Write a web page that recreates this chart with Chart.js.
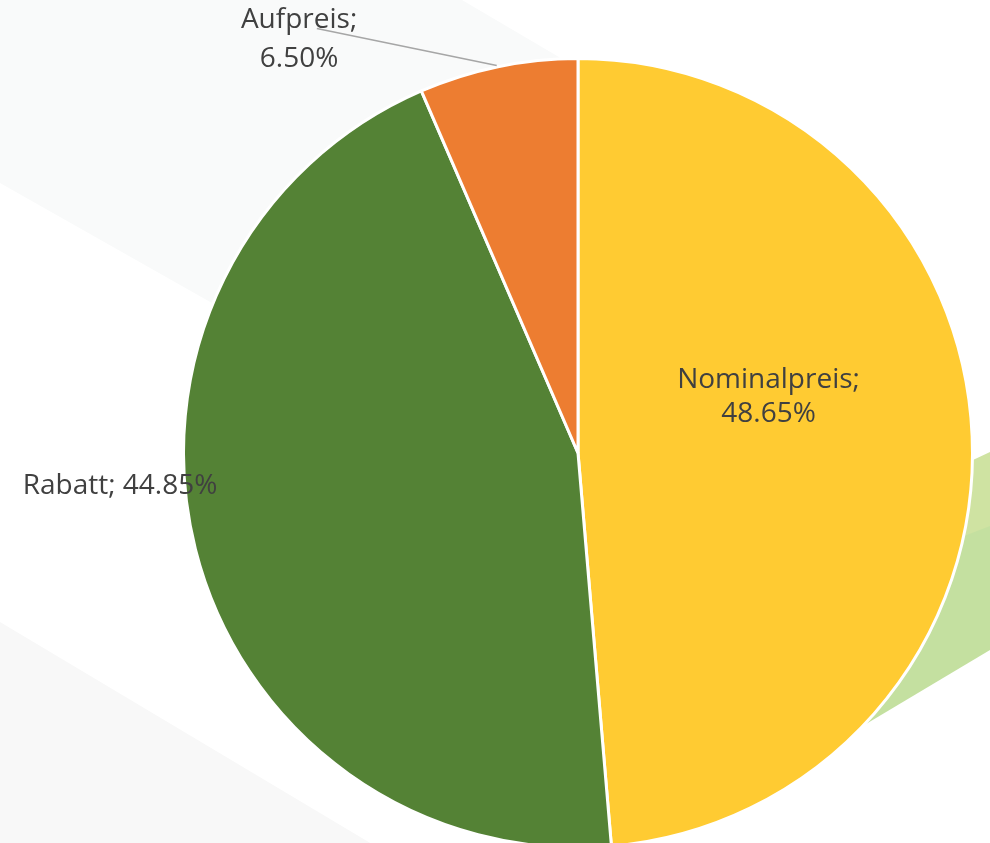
<!DOCTYPE html>
<html>
<head>
<meta charset="utf-8">
<script src="https://cdn.jsdelivr.net/npm/chart.js@4"></script>
<style>
  html, body { margin: 0; padding: 0; background: #ffffff; overflow: hidden; }
  #wrap { width: 990px; height: 850px; position: relative; }
</style>
</head>
<body>
<div id="wrap"><canvas id="pieChart"></canvas></div>
<script>
// Anteile am Umsatz
const labels = ['Nominalpreis', 'Rabatt', 'Aufpreis'];
const shares = [48.65, 44.85, 6.50];
const colors = ['#FFCB32', '#548235', '#ED7D31'];

// decorative background shapes behind the pie
const backdrop = {
    id: 'backdrop',
    beforeDraw(chart) {
        const c = chart.ctx;
        c.save();
        c.fillStyle = '#f9fafa';
        c.beginPath();
        c.moveTo(0, 0); c.lineTo(462, 0); c.lineTo(700, 140);
        c.lineTo(560, 500); c.lineTo(0, 183); c.closePath();
        c.fill();
        c.fillStyle = '#f8f8f8';
        c.beginPath();
        c.moveTo(0, 622); c.lineTo(382, 850); c.lineTo(0, 850); c.closePath();
        c.fill();
        c.fillStyle = '#cfe3a2';
        c.beginPath();
        c.moveTo(990, 452); c.lineTo(990, 528); c.lineTo(760, 620); c.lineTo(760, 560); c.closePath();
        c.fill();
        c.fillStyle = '#c4e0a0';
        c.beginPath();
        c.moveTo(990, 526); c.lineTo(990, 650); c.lineTo(866, 724); c.lineTo(760, 770); c.lineTo(760, 615); c.closePath();
        c.fill();
        c.restore();
    }
};

// data labels, placed relative to the pie centre in units of radius
const sliceLabels = {
    id: 'sliceLabels',
    afterDatasetsDraw(chart) {
        const arc = chart.getDatasetMeta(0).data[0];
        const cx = arc.x, cy = arc.y, r = arc.outerRadius;
        const c = chart.ctx;
        const pct = v => v.toFixed(2) + '%';
        c.save();
        c.font = '28px "Open Sans"';
        c.fillStyle = '#404040';
        c.textAlign = 'center';
        c.textBaseline = 'middle';

        // leader line for the small slice
        c.strokeStyle = '#a6a6a6';
        c.lineWidth = 1.5;
        c.beginPath();
        c.moveTo(cx - 0.662 * r, cy - 1.076 * r);
        c.lineTo(cx - 0.206 * r, cy - 0.982 * r);
        c.stroke();

        const place = [
            [[0.483, -0.185], [0.483, -0.098]],
            [[-1.161, 0.084]],
            [[-0.707, -1.097], [-0.707, -0.998]]
        ];
        place.forEach((pos, i) => {
            const lines = pos.length === 2
                ? [labels[i] + ';', pct(shares[i])]
                : [labels[i] + '; ' + pct(shares[i])];
            pos.forEach((p, j) => {
                c.fillText(lines[j], cx + p[0] * r, cy + p[1] * r);
            });
        });
        c.restore();
    }
};

new Chart(document.getElementById('pieChart'), {
    type: 'pie',
    data: {
        labels: labels,
        datasets: [{
            data: shares,
            backgroundColor: colors,
            borderColor: '#ffffff',
            borderWidth: 3
        }]
    },
    options: {
        responsive: true,
        maintainAspectRatio: false,
        animation: false,
        layout: { padding: { top: 57, left: 182, right: 16, bottom: 1 } },
        plugins: {
            legend: { display: false },
            tooltip: { enabled: false }
        }
    },
    plugins: [backdrop, sliceLabels]
});
</script>
</body>
</html>
